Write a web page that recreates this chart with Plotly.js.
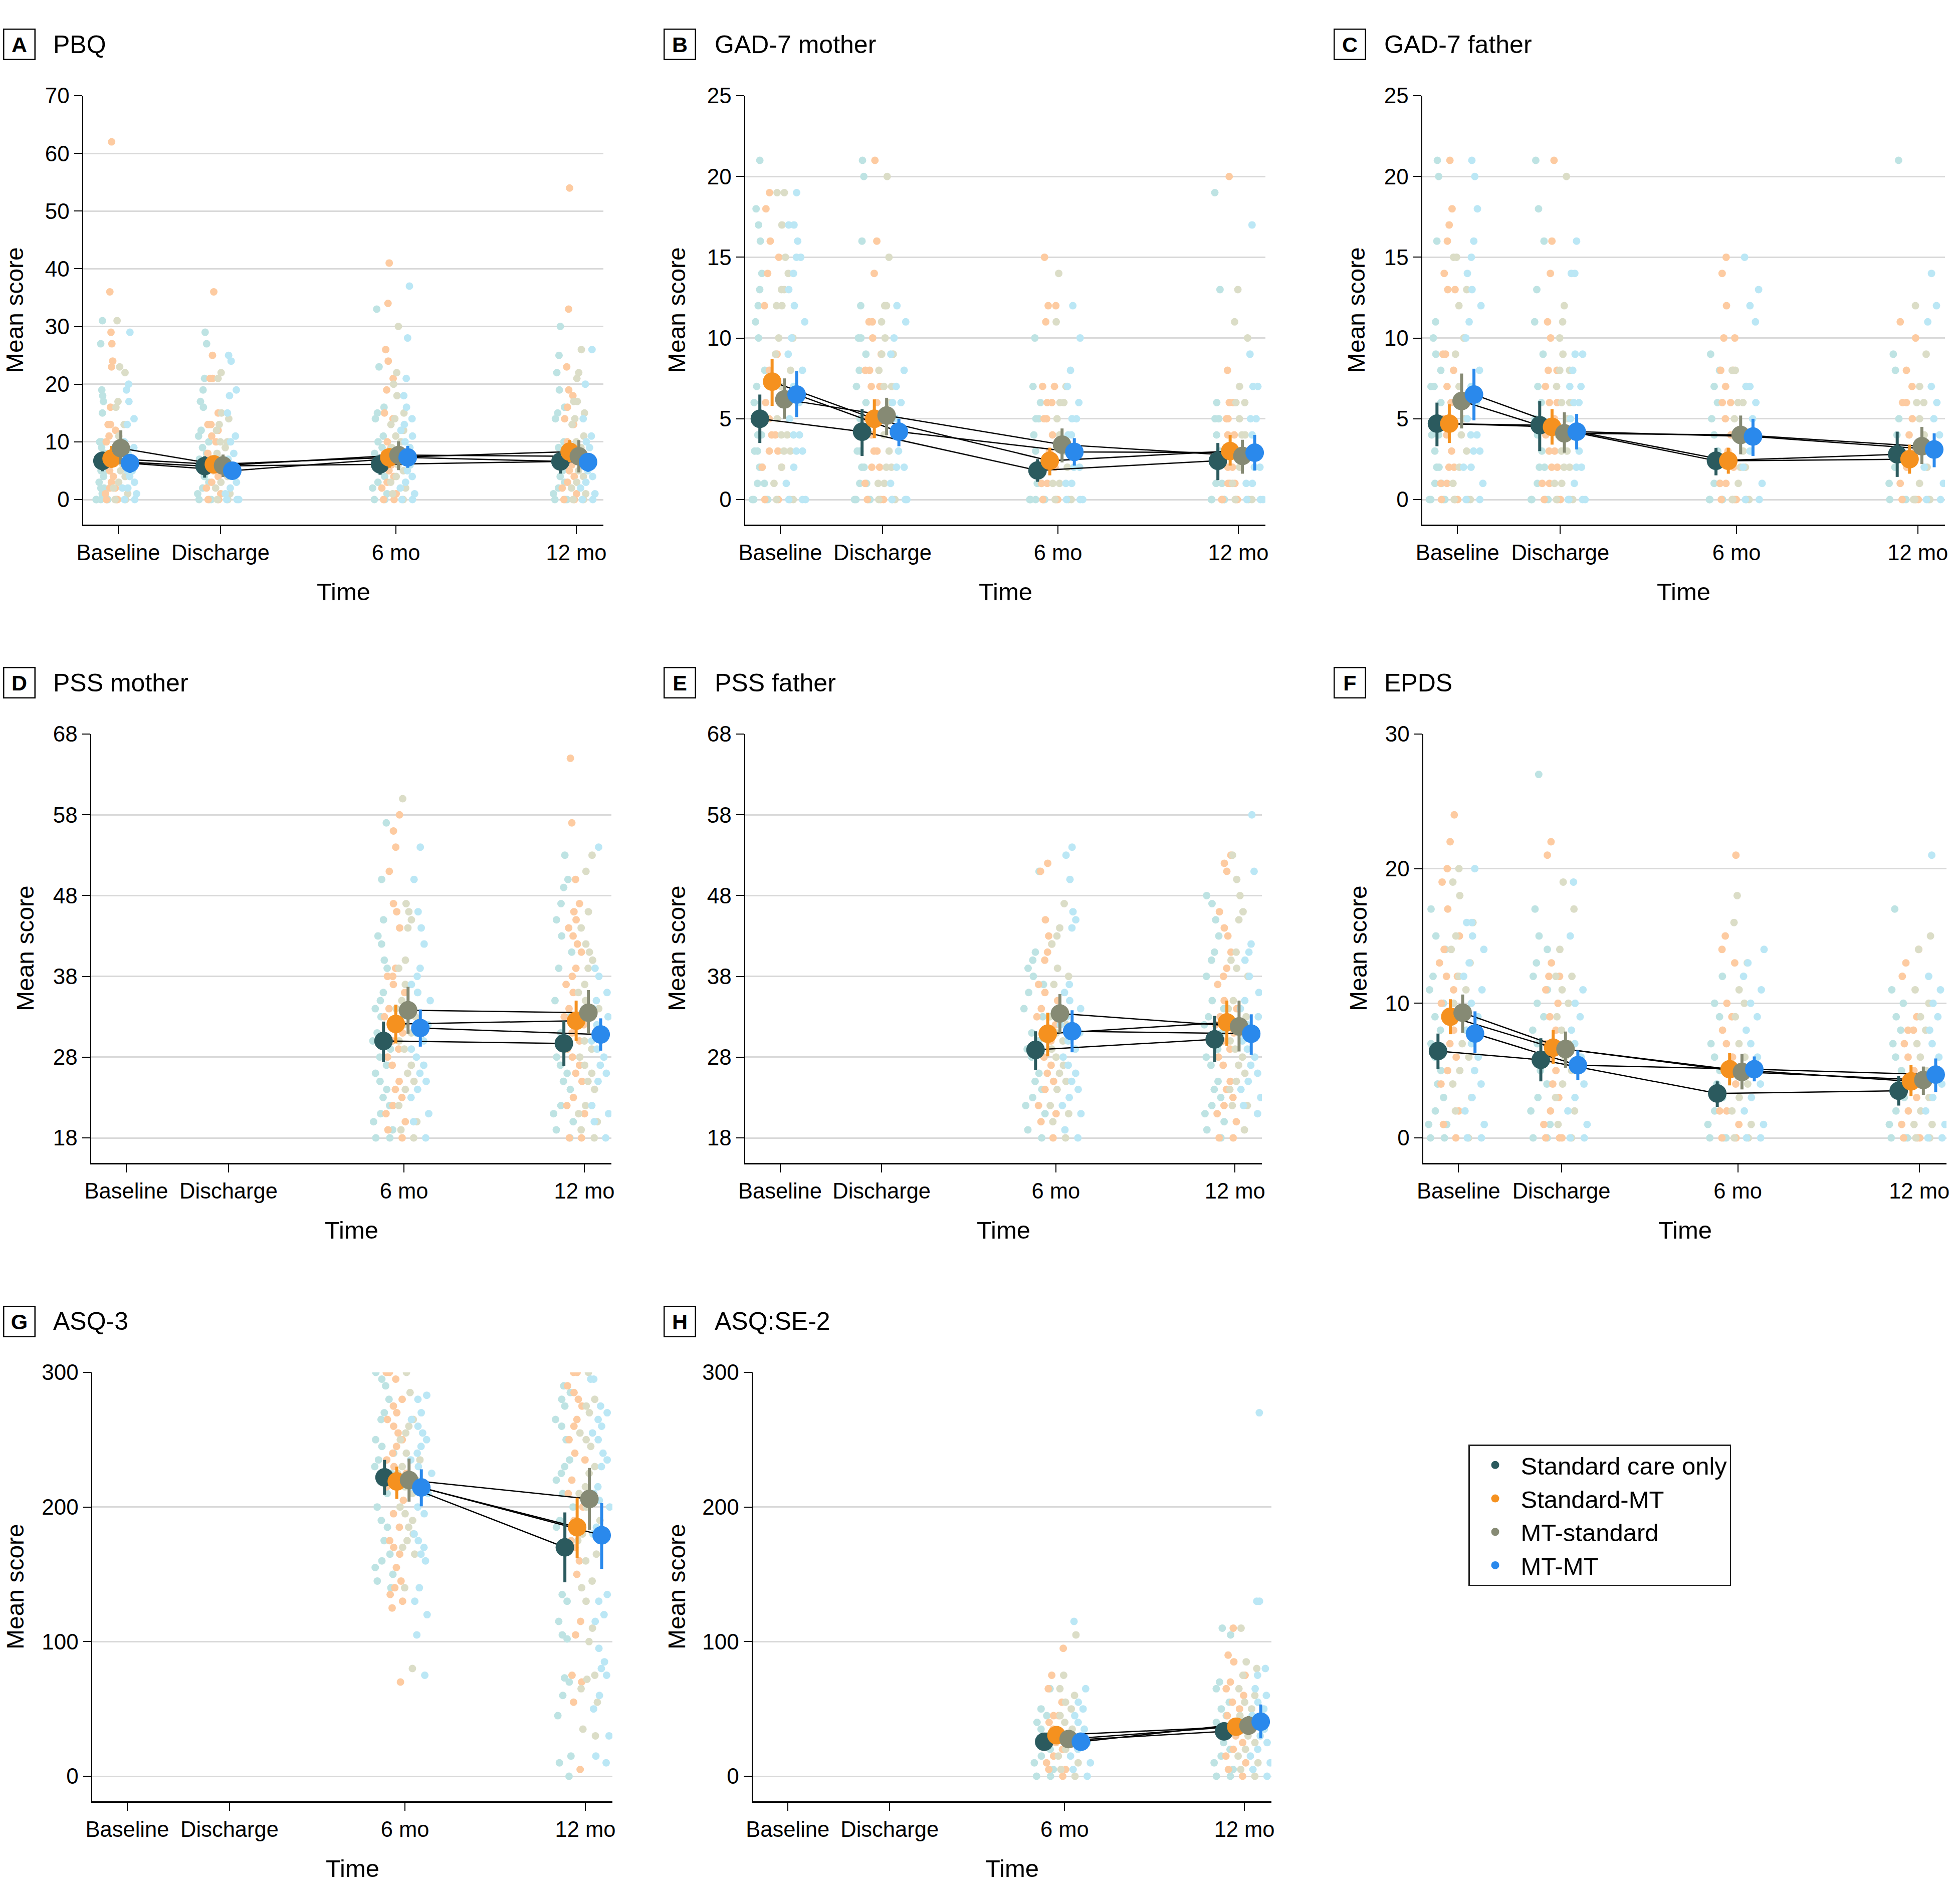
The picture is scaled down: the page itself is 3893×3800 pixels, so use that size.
<!DOCTYPE html>
<html><head><meta charset="utf-8">
<script src="https://cdn.plot.ly/plotly-3.0.1.min.js"></script>
<style>html,body{margin:0;padding:0;background:#fff}</style>
</head><body><div id="chart" style="width:3893px;height:3800px"></div>
<script>
// ---------- categories / labels ----------
const timeLabels = ['Baseline', 'Discharge', '6 mo', '12 mo'];
const timePos = [0, 1, 2.716, 4.48];
const seriesNames = ['Standard care only', 'Standard-MT', 'MT-standard', 'MT-MT'];
const panelLetters = ['A', 'B', 'C', 'D', 'E', 'F', 'G', 'H'];
const panelTitles = ['PBQ', 'GAD-7 mother', 'GAD-7 father', 'PSS mother', 'PSS father', 'EPDS', 'ASQ-3', 'ASQ:SE-2'];
const yMin = [0, 0, 0, 18, 18, 0, 0, 0];
const yMax = [70, 25, 25, 68, 68, 30, 300, 300];
const yStep = [10, 5, 5, 10, 10, 10, 100, 100];

// ---------- means and 95% CI (rows: series, cols: time) ----------
const meanPBQ = [[6.7, 5.8, 6.1, 6.6], [7.1, 6.1, 7.3, 8.3], [8.9, 5.9, 7.7, 7.5], [6.3, 5.0, 7.3, 6.5]];
const loPBQ   = [[4.9, 3.8, 4.3, 4.5], [5.5, 4.6, 5.5, 6.5], [6.1, 3.9, 5.1, 4.7], [4.6, 3.7, 5.5, 4.8]];
const hiPBQ   = [[8.3, 7.5, 7.8, 8.3], [9.3, 7.6, 8.9, 10.3], [12.0, 7.8, 10.1, 10.3], [7.9, 6.1, 9.3, 8.0]];

const meanGADm = [[5.0, 4.2, 1.8, 2.4], [7.3, 5.0, 2.4, 3.0], [6.2, 5.2, 3.4, 2.7], [6.5, 4.2, 2.95, 2.9]];
const loGADm   = [[3.5, 2.7, 1.1, 1.2], [5.8, 3.8, 1.5, 2.1], [5.0, 4.0, 2.3, 1.6], [5.1, 3.3, 2.1, 1.8]];
const hiGADm   = [[6.5, 5.6, 2.5, 3.5], [8.7, 6.2, 3.2, 4.0], [7.5, 6.3, 4.4, 3.7], [7.95, 5.0, 3.8, 4.0]];

const meanGADf = [[4.7, 4.6, 2.4, 2.8], [4.7, 4.5, 2.4, 2.5], [6.1, 4.1, 4.0, 3.3], [6.5, 4.2, 3.9, 3.1]];
const loGADf   = [[3.3, 3.0, 1.5, 1.4], [3.5, 3.4, 1.6, 1.6], [4.4, 2.9, 2.8, 2.2], [4.9, 3.1, 2.7, 2.0]];
const hiGADf   = [[6.0, 6.1, 3.2, 4.2], [5.9, 5.6, 3.2, 3.4], [7.8, 5.4, 5.2, 4.5], [8.1, 5.3, 5.0, 4.1]];

const meanPSSm = [[null, null, 30.0, 29.7], [null, null, 32.1, 32.5], [null, null, 33.8, 33.5], [null, null, 31.6, 30.8]];
const loPSSm   = [[null, null, 27.4, 26.9], [null, null, 29.7, 30.0], [null, null, 30.9, 30.9], [null, null, 29.3, 28.8]];
const hiPSSm   = [[null, null, 32.4, 32.5], [null, null, 34.5, 35.0], [null, null, 36.7, 36.3], [null, null, 33.9, 32.8]];

const meanPSSf = [[null, null, 28.9, 30.2], [null, null, 30.9, 32.3], [null, null, 33.4, 31.8], [null, null, 31.2, 30.9]];
const loPSSf   = [[null, null, 26.4, 27.4], [null, null, 28.1, 29.4], [null, null, 31.0, 28.7], [null, null, 28.6, 28.3]];
const hiPSSf   = [[null, null, 31.2, 33.1], [null, null, 33.5, 35.0], [null, null, 35.8, 35.0], [null, null, 33.8, 33.3]];

const meanEPDS = [[6.45, 5.8, 3.3, 3.5], [9.0, 6.7, 5.1, 4.2], [9.3, 6.6, 4.9, 4.3], [7.75, 5.4, 5.1, 4.7]];
const loEPDS   = [[5.1, 4.2, 2.3, 2.4], [7.7, 5.5, 3.9, 3.1], [7.8, 5.2, 3.6, 3.2], [6.3, 4.3, 4.2, 3.4]];
const hiEPDS   = [[7.75, 7.4, 4.2, 4.6], [10.3, 8.0, 6.3, 5.4], [10.65, 7.9, 6.25, 5.3], [9.4, 6.5, 6.05, 5.9]];

const meanASQ = [[null, null, 222, 170], [null, null, 219, 185], [null, null, 220, 206], [null, null, 214.5, 179]];
const loASQ   = [[null, null, 209, 144], [null, null, 206, 162], [null, null, 204, 183], [null, null, 200.5, 154]];
const hiASQ   = [[null, null, 235, 196], [null, null, 230, 207], [null, null, 236, 229], [null, null, 228, 203]];

const meanASQSE = [[null, null, 25.6, 33.3], [null, null, 30.5, 36.8], [null, null, 27.6, 37.6], [null, null, 25.6, 40.5]];
const loASQSE   = [[null, null, 22, 27.6], [null, null, 25.4, 31.3], [null, null, 23.4, 30.5], [null, null, 22, 28.2]];
const hiASQSE   = [[null, null, 29, 39], [null, null, 35.6, 42], [null, null, 32, 44.7], [null, null, 29.6, 53.3]];

// ---------- individual scores (series -> time -> values) ----------
const rawPBQ = [
  [[31,27,19,18,17,15,10,10,9,8,7,6,5,5,4,3,2,2,1,1,0,0,0,0,0],
   [29,27,21,19,17,16,13,12,11,10,9,8,7,6,5,4,3,2,1,0,0,0],
   [33,23,16,15,14,11,10,9,8,7,6,5,4,3,2,1,0,0],
   [30,25,22,19,16,15,14,10,9,8,7,6,5,4,3,2,1,0,0,0]],
  [[62,36,29,27,24,23,16,13,13,12,11,10,9,8,7,6,5,4,3,2,2,1,0,0,0],
   [36,25,21,21,15,13,13,12,11,10,8,7,6,5,4,3,2,1,0,0],
   [41,34,26,24,21,19,15,14,10,9,8,7,6,5,4,3,2,1,0,0],
   [54,33,23,19,18,16,14,13,10,9,8,7,6,5,4,3,2,1,0,0]],
  [[31,23,22,17,16,13,11,10,8,7,6,5,4,3,2,1,0,0],
   [22,21,15,14,13,12,10,10,9,8,7,6,5,4,3,2,1,0,0],
   [30,22,20,18,15,14,13,12,11,10,9,8,7,6,5,4,3,2,1,0],
   [26,22,21,17,17,15,14,13,11,10,9,8,7,6,5,4,3,2,1,0,0]],
  [[29,20,19,17,14,13,10,9,8,7,6,5,5,4,3,2,2,1,0,0],
   [25,24,19,18,15,11,10,8,7,6,5,4,3,2,1,0,0,0],
   [37,28,21,18,16,14,13,12,11,10,9,8,7,6,5,4,3,2,1,0,0],
   [26,20,14,11,10,9,8,7,6,5,4,3,2,1,0,0]]
];
const rawGADm = [
  [[21,18,17,16,14,13,12,11,10,8,7,6,5,4,4,3,3,2,2,1,1,0,0,0,0],
   [21,20,16,12,10,10,9,8,7,6,5,4,3,3,2,2,1,1,0,0,0,0],
   [10,7,6,5,5,4,3,2,1,1,0,0,0,0,0],
   [19,13,6,5,5,4,3,2,1,1,0,0,0,0]],
  [[19,18,16,15,14,12,9,8,7,6,5,4,4,3,3,2,2,0,0],
   [21,16,14,11,11,10,9,8,8,7,7,6,5,4,3,3,2,2,1,0,0,0],
   [15,12,12,11,7,7,6,6,5,5,4,3,2,1,1,0,0,0],
   [20,8,6,6,5,5,4,4,3,3,2,2,1,1,1,0,0,0,0]],
  [[19,19,17,15,14,13,13,12,12,10,10,9,8,7,6,5,4,4,3,3,2,1,0,0,0],
   [20,15,12,12,11,10,9,9,8,7,7,6,5,4,3,2,2,1,1,0,0,0],
   [14,11,7,6,6,5,4,3,3,2,1,1,0,0,0],
   [13,11,10,7,6,6,5,4,4,3,2,1,0,0,0]],
  [[19,17,17,16,15,15,14,13,12,11,10,9,8,7,6,5,4,4,3,3,2,1,0,0,0],
   [12,11,10,9,8,7,6,6,5,4,3,2,2,1,0,0,0],
   [12,10,8,7,6,5,5,4,4,3,2,2,1,1,0,0,0],
   [17,9,7,7,5,5,4,3,2,2,1,1,0,0,0]]
];
const rawGADf = [
  [[21,20,16,11,10,9,8,7,7,6,5,4,4,3,2,2,1,1,0,0,0,0],
   [21,18,16,13,11,9,7,6,5,4,3,2,2,1,0,0,0,0],
   [9,8,7,6,5,4,3,2,1,1,0,0,0,0],
   [21,9,8,5,4,3,2,1,0,0,0]],
  [[21,18,17,16,14,13,13,9,9,8,7,6,5,4,3,2,2,1,1,0,0,0],
   [21,16,14,11,10,8,8,7,6,6,5,4,3,3,2,2,1,1,0,0,0],
   [15,14,12,10,10,8,8,7,6,6,5,4,3,2,1,1,0,0,0],
   [11,10,8,7,6,6,5,4,3,2,1,0,0,0]],
  [[15,15,13,12,10,9,7,5,4,3,2,1,0,0,0],
   [20,12,11,10,9,8,8,7,6,6,5,4,3,3,2,2,1,1,0,0,0],
   [8,8,7,6,6,5,4,3,2,2,1,0,0,0,0],
   [12,9,7,6,6,5,4,3,2,1,0,0,0,0]],
  [[21,20,18,16,15,14,13,12,11,10,8,7,6,5,4,4,3,3,2,2,1,0,0],
   [16,14,14,9,9,8,7,7,6,6,5,4,3,2,2,1,0,0,0,0],
   [15,13,12,11,7,7,6,5,4,3,2,1,0,0],
   [14,12,11,7,6,5,4,3,2,1,0,0]]
];
const rawPSSm = [
  [[], [],
   [57,50,45,43,42,40,39,36,35,34,33,32,31,30,29,28,27,26,25,24,23,22,21,20,19,18,18],
   [53,50,49,47,45,43,41,39,35,33,31,29,28,27,26,25,24,22,21,20,19,18]],
  [[], [],
   [58,56,54,51,47,46,44,39,38,38,37,36,34,33,31,30,29,28,27,25,24,23,22,21,20,19,18],
   [65,57,50,47,46,45,44,43,42,41,39,38,37,36,35,34,33,32,31,30,29,28,27,26,25,23,22,21,18,18]],
  [[], [],
   [60,47,46,45,44,40,39,37,36,35,34,33,32,31,30,29,27,26,25,24,22,20,19,18],
   [53,51,46,44,42,41,40,39,37,36,35,34,33,32,31,30,29,28,27,26,25,24,22,21,20,19,18]],
  [[], [],
   [54,50,46,44,42,39,38,37,36,35,34,33,32,31,30,29,28,27,26,25,24,23,21,20,18],
   [54,39,38,36,35,34,33,32,31,30,29,28,27,26,25,22,21,20,18]]
];
const rawPSSf = [
  [[], [],
   [51,41,40,39,38,37,36,34,33,31,30,29,28,26,25,24,23,22,21,19,18],
   [48,47,45,43,41,40,38,35,34,33,32,31,30,29,28,27,25,24,23,22,21,20,19,18]],
  [[], [],
   [52,51,45,43,42,41,40,37,36,35,34,33,32,31,30,29,28,27,26,25,24,22,21,20,18],
   [53,52,51,46,44,43,41,39,38,37,35,34,33,32,31,30,29,28,27,25,24,23,22,21,20,18,18]],
  [[], [],
   [47,44,43,42,39,38,37,33,32,31,30,29,28,27,26,25,24,22,21,20,18],
   [53,50,48,46,45,41,40,39,38,35,34,33,32,31,30,29,28,27,26,25,24,22,22,19]],
  [[], [],
   [54,53,50,46,45,44,37,36,35,34,33,32,31,30,29,28,27,26,25,24,23,22,21,19,18],
   [58,51,42,41,40,38,36,35,34,33,32,31,30,29,28,27,26,25,24,23,22,21]]
];
const rawEPDS = [
  [[17,15,14,12,11,10,9,8,7,6,5,4,3,2,1,1,0,0],
   [27,17,15,14,13,12,11,10,9,8,7,6,5,4,3,2,1,0,0],
   [12,10,9,7,6,5,4,3,2,1,0,0,0],
   [17,11,10,9,8,7,6,5,4,3,2,1,0,0,0]],
  [[24,22,20,19,17,15,14,13,12,12,11,10,9,8,7,6,5,4,2,1,0],
   [22,21,13,12,12,11,10,9,8,7,6,5,4,3,2,1,0,0,0],
   [21,15,14,13,10,9,8,7,6,5,4,2,2,1,0,0],
   [14,13,12,9,8,8,7,6,5,4,3,2,1,0,0,0]],
  [[20,19,18,16,15,14,13,12,11,10,9,8,7,6,5,4,3,2,0],
   [19,17,14,12,12,11,10,9,8,7,6,5,4,3,2,1,0],
   [18,16,13,11,10,9,7,6,5,4,3,2,1,0,0],
   [15,14,11,10,9,8,7,6,5,4,3,2,1,1,0,0]],
  [[20,16,16,15,14,13,12,11,10,9,8,7,6,5,4,3,2,1,0,0],
   [19,15,11,10,9,8,7,6,5,4,3,2,1,0,0],
   [14,13,12,11,10,9,8,7,6,5,4,3,2,1,0,0],
   [21,12,11,10,9,8,7,6,5,4,3,2,1,0,0]]
];
const rawASQ = [
  [[], [],
   [300,295,290,280,270,265,250,245,240,235,230,225,220,210,200,190,185,175,165,160,155,150,145,140],
   [290,285,280,275,265,260,250,235,230,225,220,210,200,190,185,170,135,130,115,105,102,73,70,60,45,15,10,0]],
  [[], [],
   [300,300,295,280,275,270,265,260,255,250,245,240,235,230,225,220,215,205,195,185,175,170,165,155,145,140,135,130,125,70],
   [300,300,290,285,280,275,265,260,250,240,235,220,210,200,190,180,175,170,160,150,115,105,75,70,55,5]],
  [[], [],
   [300,285,265,260,255,250,240,235,230,225,220,215,210,200,195,190,185,180,175,170,165,140,80],
   [300,280,275,270,255,250,245,230,225,215,210,200,190,180,175,165,160,145,140,130,110,100,75,72,65,55,35,30]],
  [[], [],
   [283,280,270,265,260,255,250,245,240,235,230,225,220,215,210,200,195,180,175,170,165,160,140,130,120,105,75],
   [295,295,275,270,265,260,255,250,240,235,230,215,210,205,200,185,180,135,130,120,115,95,85,80,75,60,50,30,15,10]]
];
const rawASQSE = [
  [[], [],
   [65,50,45,40,35,30,25,20,15,10,5,0,0],
   [110,105,70,65,55,50,45,40,35,30,25,20,15,10,5,0,0]],
  [[], [],
   [95,75,65,55,45,45,40,35,30,25,20,15,10,5,5,0],
   [110,90,85,75,70,65,60,55,50,45,40,35,30,25,20,15,10,5,0]],
  [[], [],
   [105,75,65,60,55,50,45,40,35,30,25,20,15,10,5,0],
   [110,85,80,75,65,60,55,50,45,40,35,30,25,20,15,10,5,0]],
  [[], [],
   [115,65,55,50,45,40,35,30,25,20,15,10,5,0],
   [270,130,130,80,75,65,60,55,50,45,40,35,30,25,20,15,10,5,0]]
];

// ---------- styles ----------
const seriesColors = ['#2b5a5e', '#f5911f', '#868a74', '#2a89ec'];
const rawColors = ['#bee3e3', '#fdcba1', '#dbddc7', '#bbe7f5'];
const FONT = 'Liberation Sans, Arial, sans-serif';
const W = 3893, H = 3800;

const panels = [
  {mean: meanPBQ, lo: loPBQ, hi: hiPBQ, raw: rawPBQ},
  {mean: meanGADm, lo: loGADm, hi: hiGADm, raw: rawGADm},
  {mean: meanGADf, lo: loGADf, hi: hiGADf, raw: rawGADf},
  {mean: meanPSSm, lo: loPSSm, hi: hiPSSm, raw: rawPSSm},
  {mean: meanPSSf, lo: loPSSf, hi: hiPSSf, raw: rawPSSf},
  {mean: meanEPDS, lo: loEPDS, hi: hiEPDS, raw: rawEPDS},
  {mean: meanASQ, lo: loASQ, hi: hiASQ, raw: rawASQ},
  {mean: meanASQSE, lo: loASQSE, hi: hiASQSE, raw: rawASQSE}
];

// layout geometry in pixels
const rowsPx = [[191, 1047], [1465, 2321], [2739, 3595]];
const colsPx = [[166, 1204], [1487, 2525], [2838, 3881], [182, 1220], [1487, 2518], [2840, 3884], [184, 1222], [1502, 2537]];
const dodge = [0.09, 0.12, 0.12, 0.12, 0.12, 0.12, 0.12, 0.12];
const letterX = [38, 1356, 2693];
const titleX = [104, 1424, 2760];
const rowTitleY = [89, 1363, 2637];
const yTitleX = [30, 1351, 2707, 50, 1350, 2710, 30, 1350];
const timeTitleY = [1181, 2455, 3729];

const px = x => x / W;
const py = y => 1 - y / H;

const traces = [];
const lineTraces = [];
const meanTraces = [];
const layout = {
  width: W, height: H, margin: {l: 0, r: 0, t: 0, b: 0},
  paper_bgcolor: '#fff', plot_bgcolor: '#fff',
  font: {family: FONT, size: 43, color: '#000'},
  showlegend: true,
  legend: {
    x: px(2930), y: py(2883), xanchor: 'left', yanchor: 'top',
    bordercolor: '#222', borderwidth: 2.5, bgcolor: '#fff',
    font: {family: FONT, size: 49, color: '#000'},
    itemwidth: 92, tracegroupgap: 0
  },
  annotations: [], shapes: []
};

panels.forEach((p, i) => {
  const row = Math.floor(i / 3), col = i % 3;
  const sfx = i === 0 ? '' : String(i + 1);
  const xa = 'x' + sfx, ya = 'y' + sfx;
  const span = yMax[i] - yMin[i];
  const pad = span * 50 / 806;
  const ticks = [];
  for (let v = yMin[i]; v <= yMax[i] + 1e-9; v += yStep[i]) ticks.push(v);

  layout['xaxis' + sfx] = {
    domain: [px(colsPx[i][0]), px(colsPx[i][1])], anchor: ya,
    range: [-0.343, 4.745], tickmode: 'array', tickvals: timePos, ticktext: timeLabels,
    showgrid: false, zeroline: false, showline: true, linecolor: '#000', linewidth: 2.5,
    ticks: 'outside', ticklen: 16, tickwidth: 2, tickcolor: '#000',
    tickfont: {family: FONT, size: 43.5, color: '#000'}, ticklabelstandoff: 0, fixedrange: true
  };
  layout['yaxis' + sfx] = {
    domain: [py(rowsPx[row][1]), py(rowsPx[row][0])], anchor: xa,
    range: [yMin[i] - pad, yMax[i]], tickmode: 'array', tickvals: ticks,
    showgrid: true, gridcolor: '#d9d9d9', gridwidth: 3, zeroline: false,
    showline: true, linecolor: '#000', linewidth: 2.5,
    ticks: 'outside', ticklen: 16, tickwidth: 2, tickcolor: '#000',
    tickfont: {family: FONT, size: 44, color: '#000'}, ticklabelstandoff: 0, fixedrange: true
  };

  // raw points
  for (let s = 0; s < 4; s++) {
    const off = (s - 1.5) * dodge[i] - 0.02;
    for (let t = 0; t < 4; t++) {
      const vals = p.raw[s][t];
      if (!vals.length) continue;
      traces.push({
        type: 'box', xaxis: xa, yaxis: ya, y: vals, x0: timePos[t] + off,
        width: dodge[i] * 2.0, boxpoints: 'all', jitter: 1, pointpos: 0,
        fillcolor: 'rgba(0,0,0,0)', line: {width: 0, color: 'rgba(0,0,0,0)'},
        marker: {color: rawColors[s], size: 15, opacity: 1, line: {width: 0}},
        hoverinfo: 'skip', showlegend: false
      });
    }
  }
  // mean lines & markers
  for (let s = 0; s < 4; s++) {
    const off = (s - 1.5) * dodge[i] - 0.02;
    const xs = [], ys = [], ep = [], em = [];
    for (let t = 0; t < 4; t++) {
      if (p.mean[s][t] === null) continue;
      xs.push(timePos[t] + off); ys.push(p.mean[s][t]);
      ep.push(p.hi[s][t] - p.mean[s][t]); em.push(p.mean[s][t] - p.lo[s][t]);
    }
    lineTraces.push({
      type: 'scatter', mode: 'lines', xaxis: xa, yaxis: ya, x: xs, y: ys,
      line: {color: '#000', width: 2.5}, hoverinfo: 'skip', showlegend: false
    });
    meanTraces.push({
      type: 'scatter', mode: 'markers', xaxis: xa, yaxis: ya, x: xs, y: ys,
      name: seriesNames[s], legendgroup: seriesNames[s], showlegend: i === 0,
      marker: {color: seriesColors[s], size: 37, line: {width: 0}},
      error_y: {type: 'data', symmetric: false, array: ep, arrayminus: em,
                color: seriesColors[s], thickness: 6, width: 0}
    });
  }

  // panel letter box + title
  layout.annotations.push({
    xref: 'paper', yref: 'paper', x: px(letterX[col]), y: py(rowTitleY[row]),
    xanchor: 'center', yanchor: 'middle', text: '<b>' + panelLetters[i] + '</b>',
    showarrow: false, font: {family: FONT, size: 43, color: '#000'},
    bordercolor: '#000', borderwidth: 2.5, width: 60, height: 58, borderpad: 0
  });
  layout.annotations.push({
    xref: 'paper', yref: 'paper', x: px(titleX[col]), y: py(rowTitleY[row]),
    xanchor: 'left', yanchor: 'middle', text: panelTitles[i],
    showarrow: false, font: {family: FONT, size: 50, color: '#000'}
  });
  // axis titles
  layout.annotations.push({
    xref: 'paper', yref: 'paper', x: px(yTitleX[i]), y: py((rowsPx[row][0] + rowsPx[row][1]) / 2),
    xanchor: 'center', yanchor: 'middle', text: 'Mean score', textangle: -90,
    showarrow: false, font: {family: FONT, size: 48, color: '#000'}
  });
  layout.annotations.push({
    xref: 'paper', yref: 'paper', x: px((colsPx[i][0] + colsPx[i][1]) / 2), y: py(timeTitleY[row]),
    xanchor: 'center', yanchor: 'middle', text: 'Time',
    showarrow: false, font: {family: FONT, size: 49, color: '#000'}
  });
});

Plotly.newPlot('chart', traces.concat(lineTraces, meanTraces), layout, {staticPlot: true, displayModeBar: false});
</script>
</body></html>
